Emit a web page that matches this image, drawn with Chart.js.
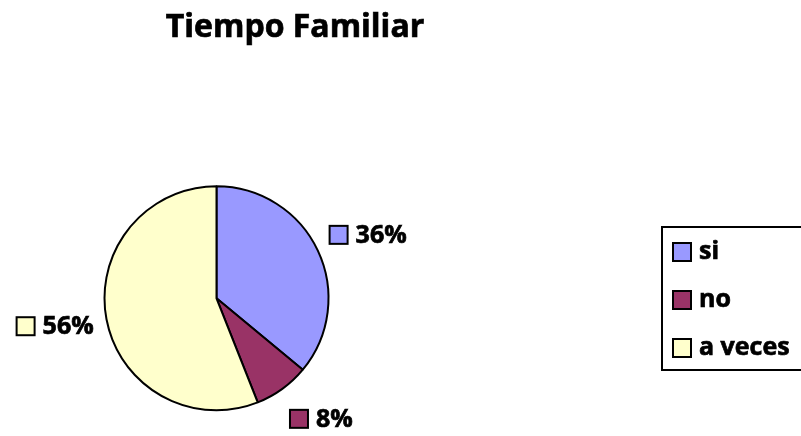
<!DOCTYPE html>
<html>
<head>
<meta charset="utf-8">
<script src="https://cdn.jsdelivr.net/npm/chart.js@4/dist/chart.umd.min.js"></script>
<style>
  html, body { margin: 0; padding: 0; background: #fff; }
  #wrap { width: 801px; height: 436px; position: relative; }
</style>
</head>
<body>
<div id="wrap"><canvas id="pie"></canvas></div>
<script>
const title = 'Tiempo Familiar'
const labels = ['si', 'no', 'a veces']
const values = [36, 8, 56]
const colors = ['#9999FF', '#993366', '#FFFFCC']

const FONT = '"Open Sans", Lato, sans-serif'

function swatch(ctx, x, y, size, fill) {
    ctx.fillStyle = fill
    ctx.fillRect(x, y, size, size)
    ctx.lineWidth = 2
    ctx.strokeStyle = '#000'
    ctx.strokeRect(x, y, size, size)
}

// bold text a bit heavier, like the original
function heavyText(ctx, text, x, y) {
    ctx.fillStyle = '#000'
    ctx.strokeStyle = '#000'
    ctx.lineWidth = 0.7
    ctx.fillText(text, x, y)
    ctx.strokeText(text, x, y)
}

// title, outside labels and the boxed legend, drawn after the pie
const decor = {
    id: 'decor',
    afterDraw(chart) {
        const ctx = chart.ctx
        const meta = chart.getDatasetMeta(0)
        const total = values.reduce((a, b) => a + b, 0)
        ctx.save()

        ctx.font = 'bold 32px ' + FONT
        ctx.textAlign = 'center'
        ctx.textBaseline = 'alphabetic'
        heavyText(ctx, title, 295, 37)

        ctx.font = 'bold 25px ' + FONT
        ctx.textAlign = 'left'
        ctx.textBaseline = 'middle'
        meta.data.forEach((arc, i) => {
            const p = arc.getProps(['x', 'y', 'startAngle', 'endAngle', 'outerRadius'], true)
            const mid = (p.startAngle + p.endAngle) / 2
            const dx = Math.cos(mid)
            const dy = Math.sin(mid)
            const text = Math.round(values[i] / total * 100) + '%'
            const sq = 18, gap = 8
            const w = sq + gap + ctx.measureText(text).width
            const ax = p.x + dx * (p.outerRadius + 13)
            const ay = p.y + dy * (p.outerRadius + 13)
            const left = dx >= 0 ? ax : ax - w
            const cy = ay + dy * 24
            swatch(ctx, left, cy - sq / 2, sq, colors[i])
            heavyText(ctx, text, left + sq + gap, cy + 1)
        })

        // legend
        ctx.lineWidth = 2
        ctx.strokeStyle = '#000'
        ctx.strokeRect(662, 227, 220, 143)
        labels.forEach((lab, i) => {
            const cy = 252 + i * 48
            swatch(ctx, 673, cy - 9, 18, colors[i])
            heavyText(ctx, lab, 699, cy)
        })
        ctx.restore()
    }
}

new Chart(document.getElementById('pie'), {
    type: 'pie',
    data: {
        labels: labels,
        datasets: [{
            data: values,
            backgroundColor: colors,
            borderColor: '#000',
            borderWidth: 2
        }]
    },
    options: {
        responsive: true,
        maintainAspectRatio: false,
        animation: false,
        events: [],
        layout: {
            padding: { left: 103.5, right: 471.5, top: 185.3, bottom: 24.7 }
        },
        plugins: {
            legend: { display: false },
            title: { display: false },
            tooltip: { enabled: false }
        }
    },
    plugins: [decor]
})
</script>
</body>
</html>
